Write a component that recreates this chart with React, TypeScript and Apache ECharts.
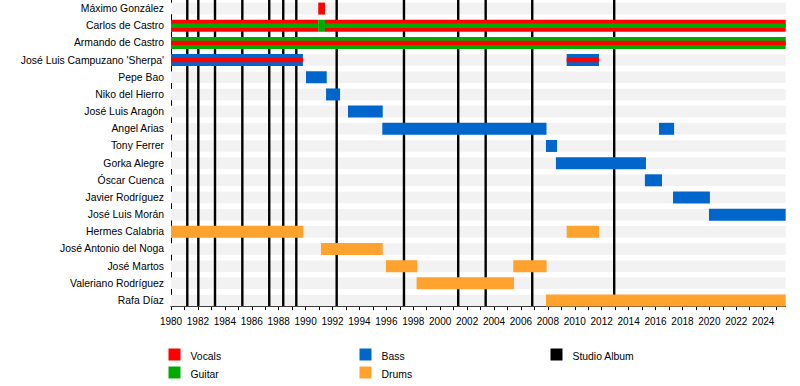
import React, { useEffect, useRef } from 'react';
import * as echarts from 'echarts';

const FONT = "'Liberation Sans', Arial, sans-serif";

const members = [
  'Máximo González',
  'Carlos de Castro',
  'Armando de Castro',
  "José Luis Campuzano 'Sherpa'",
  'Pepe Bao',
  'Niko del Hierro',
  'José Luis Aragón',
  'Angel Arias',
  'Tony Ferrer',
  'Gorka Alegre',
  'Óscar Cuenca',
  'Javier Rodríguez',
  'José Luis Morán',
  'Hermes Calabria',
  'José Antonio del Noga',
  'José Martos',
  'Valeriano Rodríguez',
  'Rafa Díaz',
];

const roles = ['Vocals', 'Guitar', 'Bass', 'Drums'];
const roleColors = ['#ff0000', '#00aa00', '#0066cc', '#ffa22e'];
const albumLabel = 'Studio Album';
const albumColor = '#000000';

const START = 1980;
const END = 2025.67;

// [member index, start, end, main role, secondary role (-1 = none)]
const tenures: number[][] = [
  [0, 1990.94, 1991.44, 0, -1],
  [1, 1980, 1990.94, 0, 1],
  [1, 1990.94, 1991.44, 1, -1],
  [1, 1991.44, END, 0, 1],
  [2, 1980, END, 1, 0],
  [3, 1980, 1989.8, 2, 0],
  [3, 2009.4, 2011.8, 2, 0],
  [4, 1990.03, 1991.57, 2, -1],
  [5, 1991.52, 1992.56, 2, -1],
  [6, 1993.15, 1995.73, 2, -1],
  [7, 1995.7, 2007.9, 2, -1],
  [7, 2016.26, 2017.38, 2, -1],
  [8, 2007.86, 2008.68, 2, -1],
  [9, 2008.6, 2015.29, 2, -1],
  [10, 2015.21, 2016.48, 2, -1],
  [11, 2017.3, 2020.04, 2, -1],
  [12, 2019.97, END, 2, -1],
  [13, 1980, 1989.83, 3, -1],
  [13, 2009.4, 2011.8, 3, -1],
  [14, 1991.14, 1995.73, 3, -1],
  [15, 1995.97, 1998.3, 3, -1],
  [15, 2005.43, 2007.91, 3, -1],
  [16, 1998.25, 2005.48, 3, -1],
  [17, 2007.86, END, 3, -1],
];

const studioAlbums = [
  1981.21, 1982.03, 1983.27, 1985.3, 1987.3, 1988.34, 1989.31, 1992.31,
  1997.31, 2001.34, 2003.38, 2006.84, 2012.93,
];

const tickYears = [
  1980, 1981, 1982, 1983, 1984, 1985, 1986, 1987, 1988, 1989, 1990, 1991,
  1992, 1993, 1994, 1995, 1996, 1997, 1998, 1999, 2000, 2001, 2002, 2003,
  2004, 2005, 2006, 2007, 2008, 2009, 2010, 2011, 2012, 2013, 2014, 2015,
  2016, 2017, 2018, 2019, 2020, 2021, 2022, 2023, 2024, 2025,
];
const labelYears = [
  1980, 1982, 1984, 1986, 1988, 1990, 1992, 1994, 1996, 1998, 2000, 2002,
  2004, 2006, 2008, 2010, 2012, 2014, 2016, 2018, 2020, 2022, 2024,
];

const AXIS_OFFSET = 3;
const BAR_H = 12;
const STRIPE_H = 4.5;
const BG_H = 11.5;

export default function App() {
  const ref = useRef<HTMLDivElement>(null);
  useEffect(() => {
    if (!ref.current) return;
    const chart = echarts.init(ref.current, null, { renderer: 'svg' });

    const legendEntries = [
      ...roles.map((r, i) => ({ label: r, color: roleColors[i] })),
      { label: albumLabel, color: albumColor },
    ];
    const colX = [168.5, 359.5, 550.5];
    const rowY = [348.5, 366.5];
    const graphic: any[] = [];
    legendEntries.forEach((e, i) => {
      const col = Math.floor(i / 2);
      const row = i % 2;
      graphic.push({
        type: 'rect',
        shape: { x: colX[col], y: rowY[row], width: 12, height: 12 },
        style: { fill: e.color },
      });
      graphic.push({
        type: 'text',
        style: {
          text: e.label,
          x: colX[col] + 22,
          y: rowY[row] + 7.5,
          verticalAlign: 'middle',
          fill: '#000',
          font: `10.4px ${FONT}`,
        },
      });
    });

    const option: any = {
      animation: false,
      grid: { left: 171, width: 614.67, top: -1.4, height: 310.5, containLabel: false },
      xAxis: {
        type: 'value',
        min: START,
        max: END,
        offset: -AXIS_OFFSET,
        axisLine: { show: true, lineStyle: { color: '#000', width: 1 } },
        axisTick: { show: true, length: 4, customValues: tickYears, lineStyle: { color: '#000' } },
        axisLabel: {
          customValues: labelYears,
          formatter: (v: number) => String(v),
          fontSize: 10,
          color: '#000',
          margin: 10,
          fontFamily: FONT,
        },
        splitLine: { show: false },
      },
      yAxis: {
        type: 'category',
        data: members,
        inverse: true,
        axisLine: { show: true, lineStyle: { color: '#000', width: 1 } },
        axisTick: { show: false },
        axisLabel: { fontSize: 10.4, color: '#000', margin: 7, fontFamily: FONT },
        splitLine: { show: false },
      },
      graphic,
      series: [
        {
          type: 'custom',
          z: 1,
          silent: true,
          data: members.map((_, i) => [START, i]),
          encode: { x: 0, y: 1 },
          renderItem: (params: any, api: any) => {
            const cs = params.coordSys;
            const y = api.coord([START, api.value(1)])[1];
            return {
              type: 'rect',
              shape: { x: cs.x, y: y - BG_H / 2, width: cs.width, height: BG_H },
              style: { fill: '#f2f2f2' },
            };
          },
        },
        {
          type: 'custom',
          z: 2,
          silent: true,
          data: studioAlbums.map((y) => [y, 0]),
          encode: { x: 0, y: 1 },
          renderItem: (params: any, api: any) => {
            const cs = params.coordSys;
            const x = api.coord([api.value(0), 0])[0];
            return {
              type: 'line',
              shape: { x1: x, y1: 0, x2: x, y2: cs.y + cs.height - AXIS_OFFSET },
              style: { stroke: albumColor, lineWidth: 2.4 },
            };
          },
        },
        {
          type: 'custom',
          z: 3,
          silent: true,
          data: tenures,
          encode: { x: [1, 2], y: 0 },
          renderItem: (params: any, api: any) => {
            const row = api.value(0);
            const p0 = api.coord([api.value(1), row]);
            const p1 = api.coord([api.value(2), row]);
            const main = api.value(3);
            const sec = api.value(4);
            const children: any[] = [
              {
                type: 'rect',
                shape: { x: p0[0], y: p0[1] - BAR_H / 2, width: p1[0] - p0[0], height: BAR_H },
                style: { fill: roleColors[main] },
              },
            ];
            if (sec >= 0) {
              children.push({
                type: 'rect',
                shape: { x: p0[0], y: p0[1] - STRIPE_H / 2, width: p1[0] - p0[0], height: STRIPE_H },
                style: { fill: roleColors[sec] },
              });
            }
            return { type: 'group', children };
          },
        },
      ],
    };
    chart.setOption(option);
    return () => chart.dispose();
  }, []);
  return (
    <div
      ref={ref}
      style={{ position: 'fixed', left: 0, top: 0, width: 800, height: 386, background: '#fff' }}
    />
  );
}
